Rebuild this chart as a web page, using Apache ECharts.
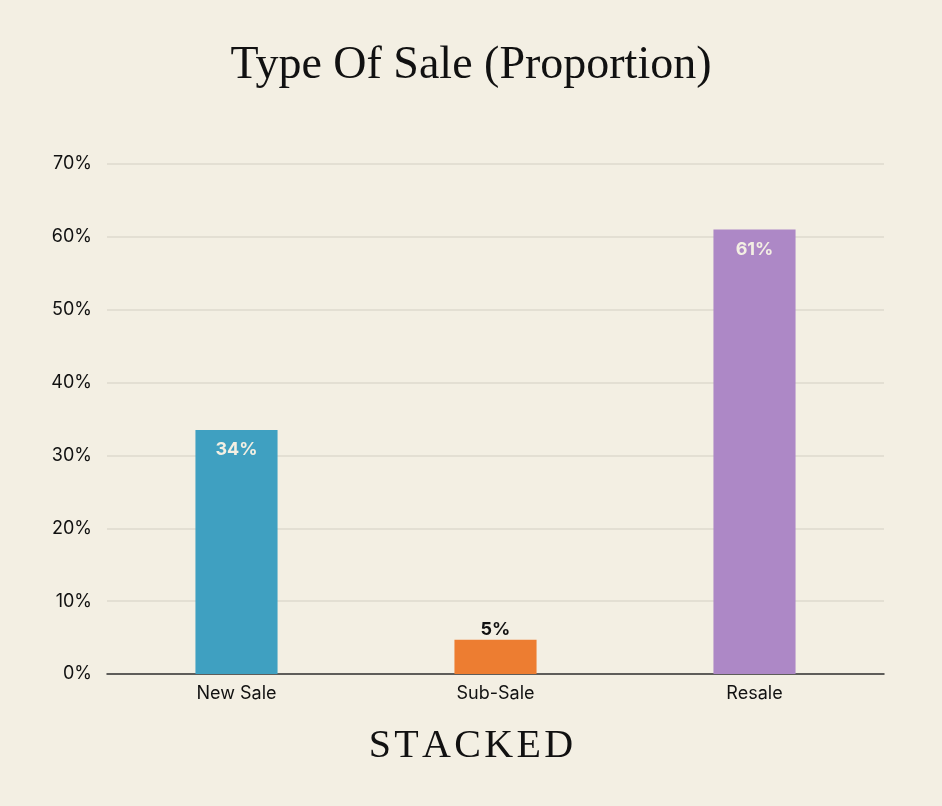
<!DOCTYPE html>
<html>
<head>
<meta charset="utf-8">
<script src="https://cdn.jsdelivr.net/npm/echarts@6/dist/echarts.min.js"></script>
<style>
  html, body { margin: 0; padding: 0; background: #f3efe3; }
  #chart { width: 942px; height: 806px; }
</style>
</head>
<body>
<div id="chart"></div>
<script>
const categories = ["New Sale", "Sub-Sale", "Resale"];
const values = [33.5, 4.7, 61.0];
const labels = ["34%", "5%", "61%"];
const barColors = ["#3fa0c1", "#ed7d31", "#ad88c6"];

(function () {
  const chart = echarts.init(document.getElementById("chart"));

  const data = values.map((v, i) => {
    const inside = v > 10;
    return {
      value: v,
      itemStyle: { color: barColors[i] },
      label: {
        show: true,
        position: inside ? "insideTop" : "top",
        distance: inside ? 11 : 1,
        color: inside ? "#f3efe3" : "#111",
        fontFamily: "Inter",
        fontWeight: "bold",
        fontSize: 18,
        formatter: () => labels[i],
      },
    };
  });

  const option = {
    backgroundColor: "#f3efe3",
    animation: false,
    title: {
      text: "Type Of Sale (Proportion)",
      left: "center",
      top: 38,
      textStyle: {
        fontFamily: "Liberation Serif",
        fontWeight: "normal",
        fontSize: 46,
        color: "#111",
      },
    },
    graphic: [
      {
        type: "text",
        left: "center",
        top: 726,
        style: {
          text: "S\u200aT\u200aA\u200aC\u200aK\u200aE\u200aD",
          font: "40px 'Liberation Serif'",
          fill: "#111",
        },
      },
    ],
    grid: { left: 107, right: 58, top: 164, bottom: 132 },
    xAxis: {
      type: "category",
      data: categories,
      axisTick: { show: false },
      axisLine: { lineStyle: { color: "#333", width: 1.5 } },
      axisLabel: {
        color: "#111",
        fontFamily: "Inter",
        fontSize: 18,
        margin: 11,
      },
    },
    yAxis: {
      type: "value",
      min: 0,
      max: 70,
      interval: 10,
      axisLine: { show: false },
      axisTick: { show: false },
      splitLine: { lineStyle: { color: "#dedace", width: 1.5 } },
      axisLabel: {
        color: "#111",
        fontFamily: "Inter",
        fontSize: 18,
        margin: 15,
        formatter: "{value}%",
      },
    },
    series: [
      {
        type: "bar",
        data: data,
        barWidth: "31.7%",
      },
    ],
  };

  chart.setOption(option);

  window.addEventListener("resize", () => {
    chart.resize();
  });
})();
</script>
</body>
</html>
